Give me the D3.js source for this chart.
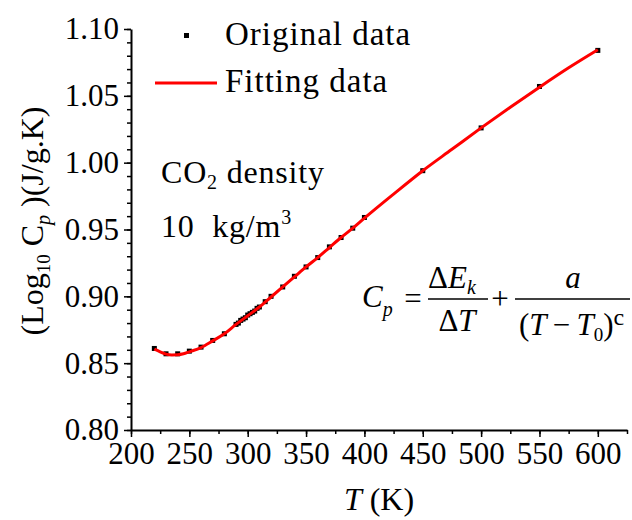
<!DOCTYPE html>
<html>
<head>
<meta charset="utf-8">
<script src="https://cdn.jsdelivr.net/npm/d3@7"></script>
<style>
  body { margin: 0; background: #fff; }
  text { font-family: "Liberation Serif", serif; fill: #000; white-space: pre; }
</style>
</head>
<body>
<svg id="drawing_region"></svg>
<script>
// original data points (T in K, log10 Cp)
const tOrig = [220, 230, 240, 250, 260, 270, 280, 290, 292, 294, 296, 298, 300, 302, 304, 306, 308, 310,
               315, 320, 330, 340, 350, 360, 370, 380, 390, 400, 450, 500, 550, 600];
const cpOrig = [0.861, 0.857, 0.857, 0.859, 0.862, 0.867, 0.872, 0.879, 0.880, 0.882, 0.883, 0.884, 0.886,
                0.887, 0.888, 0.889, 0.891, 0.892, 0.896, 0.900, 0.907, 0.915, 0.922, 0.929, 0.937, 0.944,
                0.951, 0.959, 0.994, 1.026, 1.057, 1.084];

// fitted curve
const tFit = [220, 225, 230, 235, 240, 245, 250, 260, 270, 280, 290, 300, 310, 320, 330, 340, 350, 360,
              370, 380, 390, 400, 425, 450, 475, 500, 525, 550, 575, 600];
const cpFit = [0.8605, 0.8585, 0.8568, 0.8562, 0.8563, 0.857, 0.8585, 0.8617, 0.8667, 0.872, 0.879, 0.8855,
               0.892, 0.8995, 0.907, 0.9145, 0.922, 0.929, 0.9365, 0.944, 0.951, 0.9585, 0.9765, 0.994,
               1.010, 1.026, 1.0415, 1.0565, 1.071, 1.0845];

const xTicks = [200, 250, 300, 350, 400, 450, 500, 550, 600];
const yTicks = [0.80, 0.85, 0.90, 0.95, 1.00, 1.05, 1.10];

const config = {
    width: 632,
    height: 520,
    margin: {top: 29, right: 5, bottom: 90, left: 131}
};

const svg = d3.select('#drawing_region')
    .attr('width', config.width)
    .attr('height', config.height);

const inner_width = config.width - config.margin.left - config.margin.right;
const inner_height = config.height - config.margin.top - config.margin.bottom;

const chart = svg.append('g')
    .attr('transform', `translate(${config.margin.left}, ${config.margin.top})`);

const xscale = d3.scaleLinear().domain([200, 625]).range([0, inner_width]);
const yscale = d3.scaleLinear().domain([0.80, 1.10]).range([inner_height, 0]);

function styleAxis(g) {
    g.attr('font-family', '"Liberation Serif", serif').attr('font-size', 31);
    g.selectAll('line').attr('stroke', '#000').attr('stroke-width', 1.5);
    g.select('.domain').attr('stroke', '#000').attr('stroke-width', 2);
    g.selectAll('text').attr('fill', '#000');
}

// minor ticks
chart.append('g')
    .attr('transform', `translate(0, ${inner_height})`)
    .call(d3.axisBottom(xscale).tickValues(d3.range(200, 626, 25)).tickSize(4).tickFormat(''))
    .call(styleAxis)
    .call(g => g.select('.domain').remove());

chart.append('g')
    .call(d3.axisLeft(yscale).tickValues(d3.range(80, 111, 1).map(v => v / 100)).tickSize(4).tickFormat(''))
    .call(styleAxis)
    .call(g => g.select('.domain').remove());

// major axes
chart.append('g')
    .attr('transform', `translate(0, ${inner_height})`)
    .call(d3.axisBottom(xscale).tickValues(xTicks).tickSize(7).tickSizeOuter(0).tickPadding(5).tickFormat(d3.format('d')))
    .call(styleAxis);

chart.append('g')
    .call(d3.axisLeft(yscale).tickValues(yTicks).tickSize(7).tickSizeOuter(0).tickPadding(5).tickFormat(d3.format('.2f')))
    .call(styleAxis);

// original data markers
const orig = tOrig.map((t, i) => ({t: t, cp: cpOrig[i]}));
chart.selectAll('rect.pt')
    .data(orig)
    .enter()
    .append('rect')
    .attr('class', 'pt')
    .attr('x', d => xscale(d.t) - 2.5)
    .attr('y', d => yscale(d.cp) - 2.5)
    .attr('width', 5)
    .attr('height', 5)
    .attr('fill', '#000');

// fitting curve
const fit = tFit.map((t, i) => ({t: t, cp: cpFit[i]}));
const line = d3.line()
    .x(d => xscale(d.t))
    .y(d => yscale(d.cp))
    .curve(d3.curveMonotoneX);
chart.append('path')
    .datum(fit)
    .attr('d', line)
    .attr('fill', 'none')
    .attr('stroke', '#ff0000')
    .attr('stroke-width', 3);

// legend
svg.append('rect')
    .attr('x', 184).attr('y', 33).attr('width', 5).attr('height', 5).attr('fill', '#000');
svg.append('text')
    .attr('x', 225).attr('y', 45)
    .attr('font-size', 33).attr('letter-spacing', 1)
    .text('Original data');
svg.append('line')
    .attr('x1', 155).attr('x2', 217).attr('y1', 83).attr('y2', 83)
    .attr('stroke', '#ff0000').attr('stroke-width', 3);
svg.append('text')
    .attr('x', 225).attr('y', 92)
    .attr('font-size', 33).attr('letter-spacing', 1)
    .text('Fitting data');

// annotation
const co2 = svg.append('text').attr('x', 161).attr('y', 183)
    .attr('font-size', 32).attr('letter-spacing', 0.8);
co2.append('tspan').text('CO');
co2.append('tspan').attr('font-size', 20).attr('dy', 6).text('2');
co2.append('tspan').attr('dy', -6).text(' density');

const dens = svg.append('text').attr('x', 161).attr('y', 237)
    .attr('font-size', 32).attr('letter-spacing', 0.8);
dens.append('tspan').text('10\u00a0\u00a0kg/m');
dens.append('tspan').attr('font-size', 20).attr('dy', -13).text('3');

// formula
const f = svg.append('g').attr('font-size', 31);
const cp = f.append('text').attr('x', 362).attr('y', 307);
cp.append('tspan').attr('font-style', 'italic').text('C');
cp.append('tspan').attr('font-style', 'italic').attr('font-size', 20).attr('dy', 9).text('p');
f.append('text').attr('x', 413).attr('y', 309).attr('text-anchor', 'middle').text('=');

const num1 = f.append('text').attr('x', 428).attr('y', 288);
num1.append('tspan').text('Δ');
num1.append('tspan').attr('font-style', 'italic').text('E');
num1.append('tspan').attr('font-style', 'italic').attr('font-size', 20).attr('dy', 6).text('k');
f.append('line').attr('x1', 428).attr('x2', 488).attr('y1', 299).attr('y2', 299)
    .attr('stroke', '#000').attr('stroke-width', 1.5);
const den1 = f.append('text').attr('x', 457).attr('y', 331).attr('text-anchor', 'middle');
den1.append('tspan').text('Δ');
den1.append('tspan').attr('font-style', 'italic').text('T');

f.append('text').attr('x', 500).attr('y', 309).attr('text-anchor', 'middle').text('+');

f.append('text').attr('x', 573).attr('y', 288).attr('text-anchor', 'middle')
    .attr('font-style', 'italic').text('a');
f.append('line').attr('x1', 515).attr('x2', 630).attr('y1', 299).attr('y2', 299)
    .attr('stroke', '#000').attr('stroke-width', 1.5);
const den2 = f.append('text').attr('x', 519).attr('y', 335);
den2.append('tspan').text('(');
den2.append('tspan').attr('font-style', 'italic').text('T');
den2.append('tspan').text('\u2009−\u2009');
den2.append('tspan').attr('font-style', 'italic').text('T');
den2.append('tspan').attr('font-size', 19).attr('dy', 6).text('0');
den2.append('tspan').attr('dy', -6).text(')');
den2.append('tspan').attr('font-size', 24).attr('dy', -10).text('c');

// axis titles
const xt = svg.append('text')
    .attr('x', 379).attr('y', 510)
    .attr('text-anchor', 'middle')
    .attr('font-size', 32);
xt.append('tspan').attr('font-style', 'italic').text('T');
xt.append('tspan').text(' (K)');

const yt = svg.append('text')
    .attr('transform', 'translate(43, 221) rotate(-90)')
    .attr('text-anchor', 'middle')
    .attr('font-size', 32);
yt.append('tspan').text('(Log');
yt.append('tspan').attr('font-size', 19).attr('dy', 7).text('10');
yt.append('tspan').attr('dy', -7).text(' C');
yt.append('tspan').attr('font-size', 20).attr('font-style', 'italic').attr('dy', 7).text('p');
yt.append('tspan').attr('dy', -7).text(' )(J/g.K)');
</script>
</body>
</html>
